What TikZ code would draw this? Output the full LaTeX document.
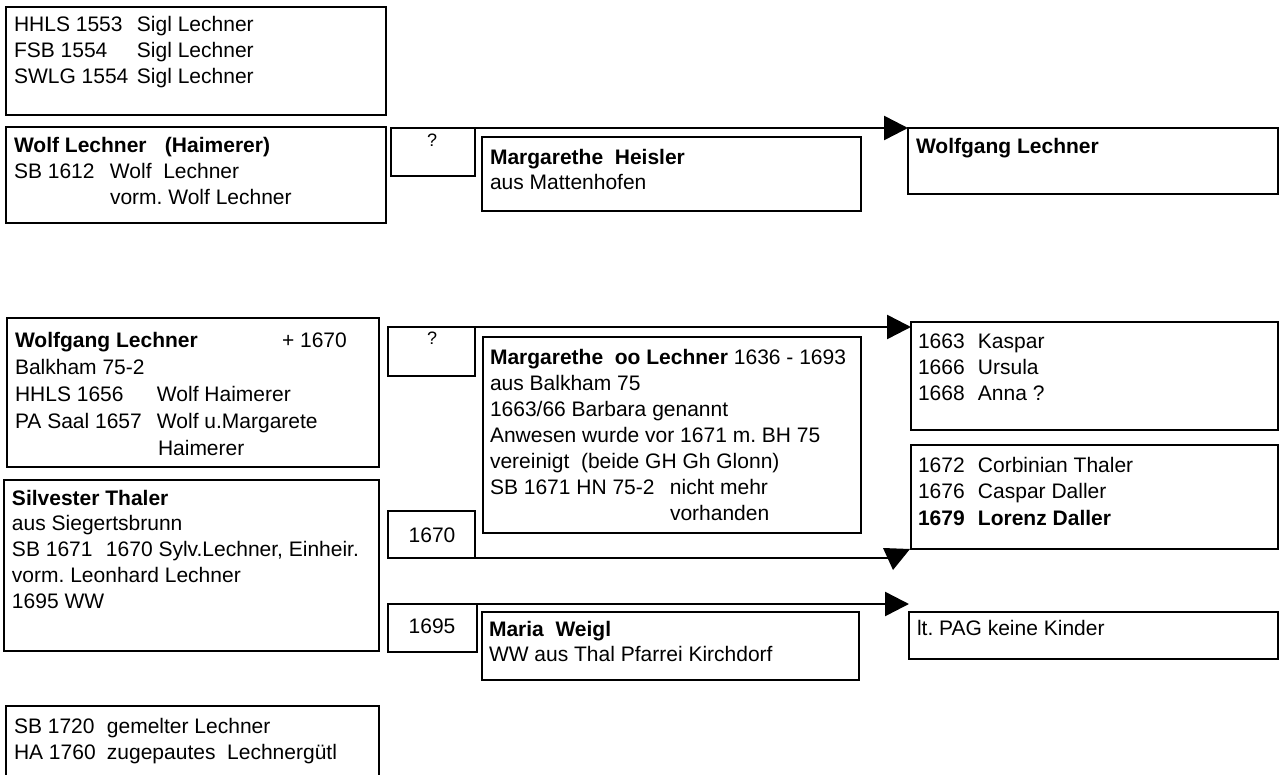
\documentclass[tikz,border=0pt]{standalone}
\usepackage{fontspec}
\setmainfont{Liberation Sans}
\usetikzlibrary{arrows.meta}
\frenchspacing
\newcommand{\bx}[5]{\node[box, minimum width=#4pt, minimum height=#5pt] (#1) at (#2,#3) {};}
\begin{document}
\begin{tikzpicture}[x=1pt,y=-1pt,
  box/.style={draw, line width=2.5pt, inner sep=0pt, outer sep=0pt, anchor=north west},
  txt/.style={inner sep=0pt, outer sep=0pt, anchor=base west, font=\fontsize{21}{26}\selectfont\frenchspacing},
  ctxt/.style={inner sep=0pt, outer sep=0pt, anchor=base, font=\fontsize{21}{26}\selectfont},
  qtxt/.style={inner sep=0pt, outer sep=0pt, anchor=base, font=\fontsize{18}{22}\selectfont},
  conn/.style={line width=2.5pt, -{Triangle[length=24pt,width=24pt]}},
  plain/.style={line width=2.5pt}]
\useasboundingbox (0,0) rectangle (1281,775);
% boxes
\bx{top1}{6}{7}{380}{108}
\bx{wolf1}{6}{127}{380}{96}
\bx{q1}{391}{128}{84}{48}
\bx{mh}{482}{137}{379}{74}
\bx{wl}{908}{128}{370}{66}
\bx{wolf2}{7}{318}{372}{149}
\bx{q2}{388}{327}{87}{49}
\bx{mol}{483}{337}{378}{196}
\bx{kids1}{911}{322}{367}{108}
\bx{kids2}{911}{445}{367}{104}
\bx{silv}{4}{480}{375}{171}
\bx{b1670}{388}{511}{87}{47}
\bx{b1695}{388}{604}{89}{48}
\bx{mw}{482}{612}{377}{68}
\bx{pag}{909}{612}{369}{47}
\bx{last}{6}{706}{373}{100}
% texts
\node[txt] (top1-t) at (14,32) {\parbox[t]{370pt}{%
\makebox[123pt][l]{HHLS 1553}Sigl Lechner\\
\makebox[123pt][l]{FSB 1554}Sigl Lechner\\
\makebox[123pt][l]{SWLG 1554}Sigl Lechner}};
\node[txt] (wolf1-t) at (14,153) {\parbox[t]{370pt}{%
\makebox[151pt][l]{\textbf{Wolf Lechner}}\textbf{(Haimerer)}\\
\makebox[96pt][l]{SB 1612}Wolf\ \ Lechner\\
\hspace*{96pt}vorm. Wolf Lechner}};
\node[qtxt] (q1-t) at (432,147) {?};
\node[txt] (mh-t) at (490,165) {\parbox[t]{370pt}{\setlength{\baselineskip}{25pt}%
\textbf{Margarethe\ \ Heisler}\\
aus Mattenhofen}};
\node[txt] (wl-t) at (916,154) {\textbf{Wolfgang Lechner}};
\node[txt] (wolf2-t) at (15,347) {\parbox[t]{370pt}{\setlength{\baselineskip}{27pt}%
\makebox[267pt][l]{\textbf{Wolfgang Lechner}}+ 1670\\
Balkham 75-2\\
\makebox[142pt][l]{HHLS 1656}Wolf Haimerer\\
\makebox[142pt][l]{PA Saal 1657}Wolf u.Margarete\\
\hspace*{143pt}Haimerer}};
\node[qtxt] (q2-t) at (432,344) {?};
\node[txt] (mol-t) at (490,364) {\parbox[t]{370pt}{%
\textbf{Margarethe\ \ oo Lechner} 1636 - 1693\\
aus Balkham 75\\
1663/66 Barbara genannt\\
Anwesen wurde vor 1671 m. BH 75\\
vereinigt\ \ (beide GH Gh Glonn)\\
\makebox[180pt][l]{SB 1671 HN 75-2}nicht mehr\\
\hspace*{180pt}vorhanden}};
\node[ctxt] (b1670-t) at (432,542) {1670};
\node[txt] (kids1-t) at (918,348) {\parbox[t]{360pt}{%
\makebox[60pt][l]{1663}Kaspar\\
\makebox[60pt][l]{1666}Ursula\\
\makebox[60pt][l]{1668}Anna ?}};
\node[txt] (kids2-t) at (918,472) {\parbox[t]{360pt}{\setlength{\baselineskip}{26.5pt}%
\makebox[60pt][l]{1672}Corbinian Thaler\\
\makebox[60pt][l]{1676}Caspar Daller\\
\textbf{\makebox[60pt][l]{1679}Lorenz Daller}}};
\node[txt] (silv-t) at (12,505) {\parbox[t]{370pt}{\setlength{\baselineskip}{25.8pt}%
\textbf{Silvester Thaler}\\
aus Siegertsbrunn\\
\makebox[94pt][l]{SB 1671}1670 Sylv.Lechner, Einheir.\\
vorm. Leonhard Lechner\\
1695 WW}};
\node[ctxt] (b1695-t) at (432,633) {1695};
\node[txt] (mw-t) at (489,636) {\parbox[t]{370pt}{\setlength{\baselineskip}{25pt}%
\textbf{Maria\ \ Weigl}\\
WW aus Thal Pfarrei Kirchdorf}};
\node[txt] (pag-t) at (917,635) {lt. PAG keine Kinder};
\node[txt] (last-t) at (14,733) {\parbox[t]{370pt}{%
\makebox[93pt][l]{SB 1720}gemelter Lechner\\
\makebox[93pt][l]{HA 1760}zugepautes\ \ Lechnergütl}};
% connectors
\draw[conn] (q1.north west) -- (q1.north west -| wl.west);
\draw[conn] (q2.north west) -- (q2.north west -| kids1.west);
\draw[conn] (b1695.north west) -- (b1695.north west -| pag.west);
\coordinate (c1670) at ([xshift=-16pt]b1670.south west -| kids2.west);
\draw[plain] (b1670.south east) -- (c1670);
\fill ([shift={(-28,-1)}]kids2.south west) -- ([shift={(-1,0)}]kids2.south west) -- ([shift={(-18,21)}]kids2.south west) -- cycle;
\end{tikzpicture}
\end{document}
